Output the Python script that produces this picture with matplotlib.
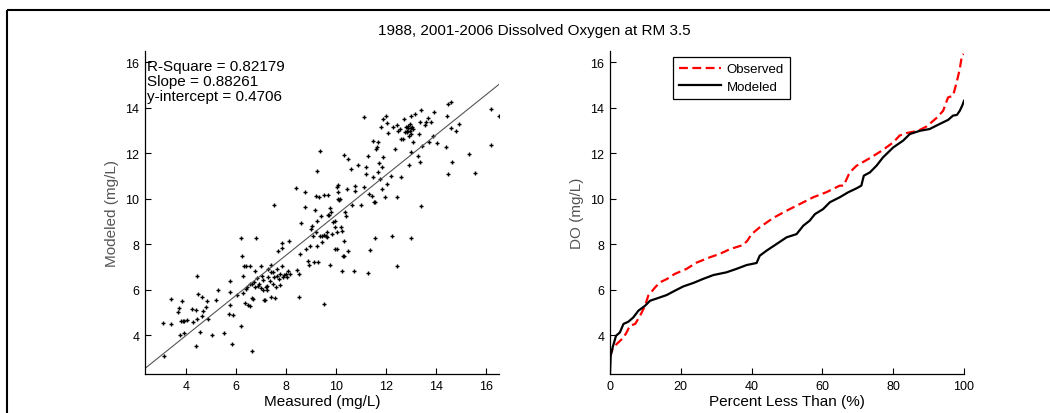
import numpy as np
import matplotlib
matplotlib.use("Agg")
import matplotlib.pyplot as plt
from matplotlib.lines import Line2D

plt.rcParams['font.family'] = ['Liberation Sans', 'DejaVu Sans']

# --------- scatter: measured vs modeled DO (mg/L) ----------
measured = [
    3.08, 3.12, 3.39, 3.39, 3.68, 3.71, 3.83, 3.74, 3.78, 3.85, 3.92, 4.04, 3.92,
    4.21, 4.37, 4.44, 4.28, 4.41, 4.40, 4.48, 4.64, 4.55, 4.61, 4.65, 4.81, 4.79,
    4.88, 5.04, 5.19, 5.28, 5.52, 5.75, 5.75, 5.75, 5.72, 5.88, 5.84, 6.01, 6.20,
    6.24, 6.20, 6.28, 6.32, 6.37, 6.28, 6.35, 6.39, 6.44, 6.48, 6.53, 6.54, 6.54,
    6.62, 6.61, 6.68, 6.64, 6.75, 6.78, 6.75, 6.71, 6.81, 6.88, 6.92, 6.97, 6.97,
    7.04, 7.08, 7.08, 7.12, 7.16, 7.17, 7.21, 7.24, 7.25, 7.28, 7.34, 7.37, 7.37,
    7.40, 7.45, 7.48, 7.49, 7.50, 7.54, 7.57, 7.61, 7.64, 7.68, 7.69, 7.74, 7.74,
    7.81, 7.81, 7.81, 7.85, 7.90, 7.97, 8.01, 8.08, 8.12, 8.14, 8.39, 8.41, 8.50,
    8.50, 8.54, 8.58, 8.74, 8.74, 8.77, 8.87, 8.90, 8.94, 8.97, 9.01, 9.07, 9.10,
    9.14, 9.17, 9.18, 9.21, 9.23, 9.23, 9.27, 9.30, 9.34, 9.34, 9.38, 9.41, 9.43,
    9.50, 9.51, 9.51, 9.58, 9.61, 9.63, 9.65, 9.71, 9.67, 9.74, 9.74, 9.77, 9.81,
    9.87, 9.94, 9.94, 9.94, 10.01, 10.03, 10.03, 10.05, 10.07, 10.05, 10.10, 10.14,
    10.17, 10.21, 10.21, 10.27, 10.30, 10.30, 10.31, 10.36, 10.40, 10.43, 10.47,
    10.47, 10.60, 10.63, 10.71, 10.74, 10.76, 10.87, 11.00, 11.11, 11.11, 11.17,
    11.17, 11.25, 11.28, 11.32, 11.35, 11.41, 11.45, 11.48, 11.50, 11.54, 11.54,
    11.57, 11.61, 11.65, 11.65, 11.70, 11.74, 11.78, 11.81, 11.84, 11.85, 11.88,
    11.97, 11.94, 12.01, 12.04, 12.08, 12.17, 12.21, 12.27, 12.34, 12.41, 12.41,
    12.41, 12.47, 12.54, 12.57, 12.60, 12.67, 12.70, 12.74, 12.78, 12.81, 12.84,
    12.87, 12.87, 12.90, 12.91, 12.94, 12.94, 12.97, 12.97, 12.99, 13.00, 13.00,
    13.04, 13.07, 13.07, 13.14, 13.27, 13.30, 13.34, 13.36, 13.40, 13.40, 13.44,
    13.54, 13.58, 13.67, 13.70, 13.77, 13.85, 13.91, 14.03, 14.40, 14.43, 14.47,
    14.47, 14.60, 14.60, 14.63, 14.80, 14.91, 15.29, 15.56, 16.17, 16.20, 16.50,
]
modeled = [
    4.53, 3.08, 5.58, 4.48, 5.04, 5.18, 5.49, 4.01, 4.61, 4.61, 4.63, 4.69, 4.10,
    5.16, 5.13, 6.63, 4.57, 4.72, 3.52, 5.82, 5.67, 4.13, 4.86, 5.08, 5.49, 5.23,
    4.72, 4.01, 5.55, 6.01, 4.09, 6.37, 5.89, 5.35, 4.92, 4.89, 3.62, 5.77, 8.26,
    7.50, 4.39, 6.60, 7.06, 7.03, 5.86, 5.40, 6.04, 6.11, 5.35, 6.26, 7.06, 5.31,
    6.26, 5.63, 5.60, 3.30, 6.84, 8.26, 6.11, 6.36, 6.51, 6.15, 6.26, 7.06, 6.07,
    6.60, 6.45, 6.01, 5.55, 5.57, 6.11, 6.15, 6.01, 6.92, 6.55, 6.40, 7.09, 6.77,
    5.67, 6.26, 6.77, 6.55, 9.74, 5.63, 6.11, 6.92, 6.63, 7.72, 6.48, 6.70, 6.21,
    8.06, 7.06, 7.83, 6.55, 6.65, 6.70, 6.55, 6.84, 8.16, 6.70, 10.47, 6.89, 6.70,
    5.70, 7.58, 8.94, 10.29, 9.62, 7.79, 7.28, 7.09, 7.94, 8.67, 8.82, 8.38, 7.21,
    9.52, 8.53, 10.14, 11.24, 9.04, 7.91, 7.21, 10.10, 12.11, 8.38, 9.26, 8.09, 8.38,
    10.18, 8.42, 5.38, 8.38, 8.31, 8.53, 9.29, 9.30, 10.18, 9.58, 7.09, 9.41, 8.46,
    8.99, 9.04, 8.75, 7.79, 8.53, 7.79, 10.50, 10.29, 10.62, 10.00, 9.97, 10.00,
    8.75, 6.84, 8.60, 7.50, 7.47, 8.16, 11.92, 9.41, 9.26, 10.43, 7.69,
    11.75, 11.31, 9.74, 6.84, 10.55, 10.36, 11.49, 9.73, 13.58, 10.50, 11.42,
    11.09, 6.74, 11.89, 10.21, 7.76, 10.14, 10.97, 12.56, 9.85, 9.85, 8.28,
    12.19, 12.26, 12.48, 11.19, 11.57, 10.87, 13.14, 10.43, 11.38, 11.82, 13.50,
    13.66, 10.06, 13.33, 10.65, 12.88, 11.02, 8.38, 13.14, 12.19, 10.06, 7.06,
    13.24, 12.99, 13.06, 12.65, 10.94, 12.63, 13.50, 12.92, 13.18, 12.99, 12.92,
    13.22, 13.10, 11.49, 12.78, 12.99, 13.29, 13.10, 13.66, 12.04, 8.26, 12.83,
    13.18, 13.06, 12.48, 13.73, 11.87, 12.85, 13.36, 11.64, 13.92, 9.70, 12.34,
    13.24, 13.36, 13.56, 12.52, 13.36, 12.78, 13.83, 12.45, 12.26, 13.63, 14.17,
    11.09, 14.27, 13.10, 11.61, 12.99, 13.29, 11.97, 11.13, 13.95, 12.37, 13.63,
]
r_square = 0.82179
slope = 0.88261
intercept = 0.4706

# --------- percentile curves ----------
obs_pct = [0.0, 0.2, 0.9, 1.9, 3.8, 4.7, 5.6, 7.1, 8.5, 9.9, 10.8, 12.7, 14.1,
           16.0, 18.3, 21.6, 24.5, 28.2, 31.0, 33.9, 37.6, 38.8, 40.0, 42.3,
           46.1, 49.9, 53.6, 57.4, 61.1, 64.9, 66.0, 67.7, 69.6, 73.4, 76.7,
           80.0, 81.8, 83.7, 87.0, 89.4, 92.2, 94.1, 95.5, 96.9, 97.8, 98.8,
           99.4, 99.9]
obs_do = [3.05, 3.18, 3.47, 3.62, 3.90, 4.13, 4.42, 4.50, 4.86, 5.30, 5.74, 6.10,
          6.33, 6.47, 6.70, 6.92, 7.20, 7.43, 7.58, 7.79, 7.97, 8.16, 8.45, 8.75,
          9.16, 9.48, 9.77, 10.07, 10.29, 10.58, 10.58, 11.16, 11.45, 11.79, 12.11,
          12.48, 12.78, 12.89, 12.99, 13.18, 13.55, 13.87, 14.46, 14.53, 15.05,
          15.70, 16.29, 16.37]

mod_pct = [0.0, 0.2, 0.75, 1.7, 2.8, 3.8, 5.2, 6.6, 8.0, 9.9, 11.3, 13.2, 16.0,
           18.3, 20.7, 23.5, 26.3, 29.2, 32.9, 35.7, 38.6, 41.4, 42.3, 44.2, 47.0,
           49.9, 52.7, 54.6, 56.4, 57.9, 60.2, 62.1, 64.9, 67.3, 69.6, 71.0, 71.7,
           73.4, 75.3, 77.1, 80.0, 82.8, 84.7, 87.5, 90.3, 93.1, 95.5, 96.9, 98.0,
           98.8, 99.5, 100.0]
mod_do = [2.35, 3.10, 3.47, 3.98, 4.13, 4.50, 4.60, 4.79, 5.08, 5.30, 5.52, 5.62,
          5.77, 5.96, 6.15, 6.30, 6.48, 6.65, 6.77, 6.92, 7.09, 7.18, 7.50, 7.72,
          8.01, 8.31, 8.45, 8.82, 9.04, 9.33, 9.55, 9.85, 10.07, 10.29, 10.46, 10.58,
          11.02, 11.16, 11.46, 11.82, 12.26, 12.56, 12.85, 12.99, 13.07, 13.29, 13.47,
          13.66, 13.69, 13.87, 14.10, 14.31]

ylims = (2.30, 16.5)

fig = plt.figure(figsize=(10.5, 4.14), dpi=100)

# outer frame of the original figure window
fig.add_artist(Line2D([7/1050, 1.02], [1 - 11/414, 1 - 11/414], transform=fig.transFigure,
                      color='black', lw=1.5, solid_capstyle='butt'))
fig.add_artist(Line2D([7/1050, 7/1050], [-0.02, 1 - 11/414], transform=fig.transFigure,
                      color='black', lw=1.5, solid_capstyle='butt'))

fig.text(534/1050, 1 - 31/414, '1988, 2001-2006 Dissolved Oxygen at RM 3.5',
         ha='center', va='center', fontsize=11)


def style_axes(ax):
    for s in ('top', 'right'):
        ax.spines[s].set_visible(False)
    for s in ('left', 'bottom'):
        ax.spines[s].set_linewidth(0.9)
    ax.tick_params(direction='in', length=4, width=0.8, labelsize=9, pad=4)


# --------- left: scatter ----------
ax1 = fig.add_axes([145/1050, 39/414, 354/1050, 323/414])
ax1.plot(measured, modeled, '+', color='black', ms=3.4, mew=1.0)
xl = (2.35, 16.5)
ax1.plot(xl, [slope*x + intercept for x in xl], color='#555555', lw=0.8)
ax1.set_xlim(xl)
ax1.set_ylim(ylims)
ax1.set_xticks(range(4, 17, 2))
ax1.set_yticks(range(4, 17, 2))
ax1.set_xlabel('Measured (mg/L)', fontsize=11, labelpad=2)
ax1.set_ylabel('Modeled (mg/L)', fontsize=11, labelpad=5, color='#555555')
ax1.text(0.006, 0.975, f'R-Square = {r_square}\nSlope = {slope}\ny-intercept = {intercept}',
         transform=ax1.transAxes, ha='left', va='top', fontsize=11, linespacing=1.1)
style_axes(ax1)

# --------- right: percentile curves ----------
ax2 = fig.add_axes([610/1050, 39/414, 354/1050, 323/414])
ax2.plot(obs_pct, obs_do, '--', color='red', lw=1.6, dashes=(4, 2), label='Observed')
ax2.plot(mod_pct, mod_do, '-', color='black', lw=1.6, label='Modeled')
ax2.set_xlim(0, 100)
ax2.set_ylim(ylims)
ax2.set_xticks(range(0, 101, 20))
ax2.set_yticks(range(4, 17, 2))
ax2.set_xlabel('Percent Less Than (%)', fontsize=11, labelpad=2)
ax2.set_ylabel('DO (mg/L)', fontsize=11, labelpad=5, color='#555555')
leg = ax2.legend(loc='upper left', bbox_to_anchor=(0.178, 0.981), borderaxespad=0,
                 fontsize=9.5, fancybox=False, edgecolor='black', handlelength=3.2,
                 framealpha=1, borderpad=0.45, labelspacing=0.4, handletextpad=0.4)
leg.get_frame().set_linewidth(0.9)
style_axes(ax2)

fig.savefig('out.png', dpi=100, facecolor='white')
